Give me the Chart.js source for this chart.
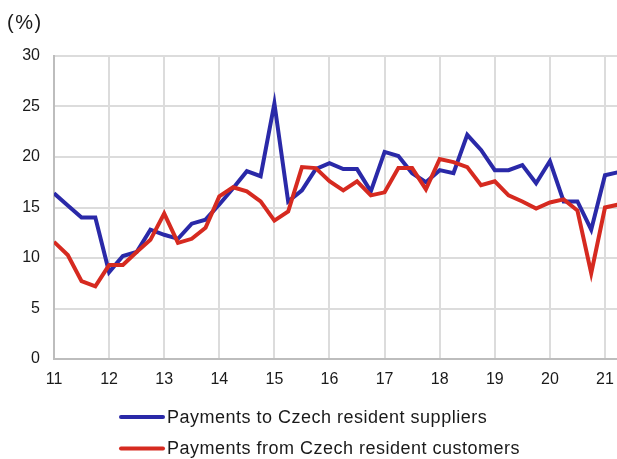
<!DOCTYPE html>
<html>
<head>
<meta charset="utf-8">
<script src="https://cdn.jsdelivr.net/npm/chart.js@4/dist/chart.umd.min.js"></script>
<style>
    html, body { margin: 0; padding: 0; background: #fff; }
    #wrap { width: 617px; height: 459px; }
</style>
</head>
<body>
<div id="wrap"><canvas id="paymentsChart" width="617" height="459"></canvas></div>
<script>
// quarterly data, 2011 Q1 .. 2021 Q2
const startYear = 11;
const yearTicks = ['11', '12', '13', '14', '15', '16', '17', '18', '19', '20', '21'];
const suppliers = [16.4, 15.2, 14.0, 14.0, 8.6, 10.2, 10.6, 12.8, 12.3, 11.9, 13.4, 13.8, 15.3, 16.9, 18.6, 18.1, 25.3, 15.6, 16.7, 18.8, 19.4, 18.8, 18.8, 16.6, 20.5, 20.1, 18.4, 17.5, 18.7, 18.4, 22.2, 20.7, 18.7, 18.7, 19.2, 17.4, 19.6, 15.6, 15.6, 12.8, 18.2, 18.5];
const customers = [11.6, 10.3, 7.7, 7.2, 9.3, 9.3, 10.6, 11.8, 14.4, 11.5, 11.9, 13.0, 16.1, 17.0, 16.6, 15.6, 13.7, 14.6, 19.0, 18.9, 17.6, 16.7, 17.6, 16.2, 16.5, 18.9, 18.9, 16.8, 19.8, 19.5, 19.0, 17.2, 17.6, 16.2, 15.6, 14.9, 15.5, 15.8, 14.7, 8.5, 15.0, 15.3];

const FONT = "'Liberation Sans', Arial, sans-serif";
const toPoints = arr => arr.map((v, i) => ({ x: startYear + i / 4, y: v }));

// draws the "(%)" unit and the two-row legend on the left
const sideText = {
    id: 'sideText',
    afterDraw(chart) {
        const ctx = chart.ctx;
        ctx.save();
        ctx.fillStyle = '#1a1a1a';
        ctx.textBaseline = 'middle';
        ctx.font = '20px ' + FONT;
        ctx.letterSpacing = '1.5px';
        ctx.fillText('(%)', 7, 23);

        ctx.font = '18px ' + FONT;
        ctx.letterSpacing = '0.5px';
        const rows = [417, 448.5];
        chart.data.datasets.forEach((ds, i) => {
            const y = rows[i];
            ctx.strokeStyle = ds.borderColor;
            ctx.lineWidth = 4;
            ctx.lineCap = 'round';
            ctx.beginPath();
            ctx.moveTo(121, y);
            ctx.lineTo(163, y);
            ctx.stroke();
            ctx.fillText(ds.label, 167, y + 1);
        });
        ctx.restore();
    }
};

const chart = new Chart(document.getElementById('paymentsChart').getContext('2d'), {
    type: 'line',
    data: {
        datasets: [
            { label: 'Payments to Czech resident suppliers', data: toPoints(suppliers), borderColor: '#2a29a8', borderWidth: 4, tension: 0, pointRadius: 0, fill: false, order: 2 },
            { label: 'Payments from Czech resident customers', data: toPoints(customers), borderColor: '#d62a20', borderWidth: 4, tension: 0, pointRadius: 0, fill: false, order: 1 }
        ]
    },
    options: {
        responsive: false,
        animation: false,
        layout: { padding: { top: 56, bottom: 70, left: 0, right: 0 } },
        scales: {
            x: {
                type: 'linear',
                min: 11,
                max: 21.218,
                afterFit: s => { s.height = 30; s.paddingLeft = 0; s.paddingRight = 0; },
                grid: { color: '#dcdcdc', lineWidth: 2, drawTicks: false },
                border: { color: '#bdbdbd', width: 2 },
                ticks: {
                    stepSize: 1,
                    includeBounds: false,
                    padding: 11,
                    color: '#1a1a1a',
                    font: { family: FONT, size: 16 },
                    callback: v => yearTicks[v - startYear] ?? ''
                }
            },
            y: {
                min: 0,
                max: 30,
                afterFit: s => { s.width = 54; },
                grid: { color: '#dcdcdc', lineWidth: 2, drawTicks: false },
                border: { color: '#bdbdbd', width: 2 },
                ticks: { stepSize: 5, padding: 14, color: '#1a1a1a', font: { family: FONT, size: 16 } }
            }
        },
        plugins: { legend: { display: false }, tooltip: { enabled: false } }
    },
    plugins: [sideText]
});
</script>
</body>
</html>
